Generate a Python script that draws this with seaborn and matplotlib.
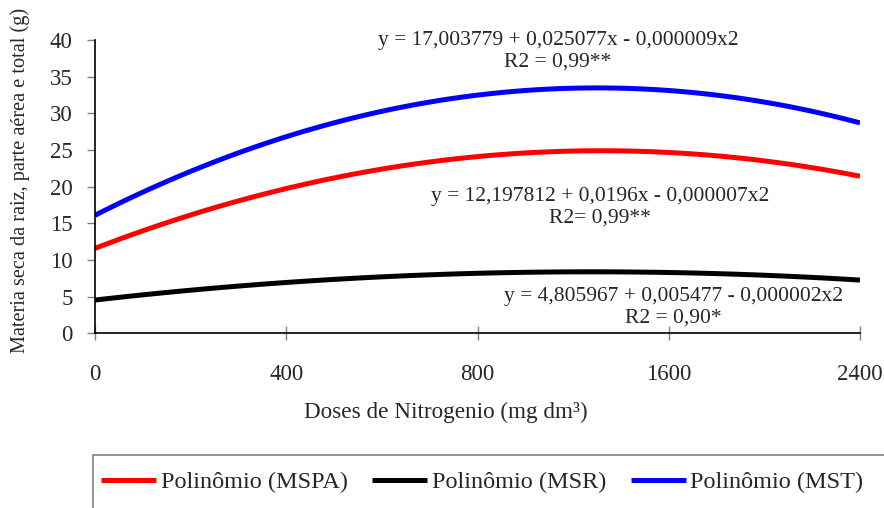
import numpy as np
import pandas as pd
import matplotlib
matplotlib.use('Agg')
import matplotlib.pyplot as plt
import seaborn as sns
from matplotlib.patches import Rectangle

# doses de N (categorias igualmente espaçadas no eixo)
doses = ['0', '400', '800', '1600', '2400']
pos = [0, 1, 2, 3, 4]

mspa = [11.6, 19.7, 24.1, 24.7, 21.4]
msr = [4.55, 6.9, 8.2, 8.3, 7.25]
mst = [16.1, 26.8, 32.5, 33.1, 28.7]

eq_mst = 'y = 17,003779 + 0,025077x - 0,000009x2\nR2 = 0,99**'
eq_mspa = 'y = 12,197812 + 0,0196x - 0,000007x2\nR2= 0,99**'
eq_msr = 'y = 4,805967 + 0,005477 - 0,000002x2\nR2 = 0,90*'

sns.set_style('ticks')
serif = ['Liberation Serif', 'DejaVu Serif']
plt.rcParams['font.family'] = serif

fig = plt.figure(figsize=(8.84, 5.08), dpi=100)
ax = fig.add_axes([95/884, 1 - 333.3/508, (860 - 95)/884, (333.3 - 40)/508])

df = pd.DataFrame({'pos': pos, 'MSPA': mspa, 'MSR': msr, 'MST': mst})
series = [('MSPA', '#ff0000'), ('MSR', '#000000'), ('MST', '#0000ff')]
for name, col in series:
    sns.regplot(data=df, x='pos', y=name, order=2, ci=None, scatter=False,
                color=col, line_kws={'lw': 3.6, 'solid_capstyle': 'butt'},
                label='Polinômio (%s)' % name, ax=ax)

ax.set_xlim(0, 4)
ax.set_ylim(0, 40)
ax.set_xticks(pos)
ax.set_xticklabels(doses)
ax.set_yticks(np.arange(0, 41, 5))
ax.tick_params(axis='x', direction='inout', length=10, width=1, color='#808080',
               labelsize=16.5, pad=17)
ax.tick_params(axis='y', direction='out', length=6, width=1, color='#808080',
               labelsize=16.5, pad=10)
for s in ['top', 'right']:
    ax.spines[s].set_visible(False)
for s in ['left', 'bottom']:
    ax.spines[s].set_color('black')
    ax.spines[s].set_linewidth(1.2)

ax.set_xlabel('Doses de Nitrogenio (mg dm³)', fontsize=16.7)
ax.xaxis.set_label_coords((446 - 95) / 765, -(412 - 333.3) / 293.3)
ax.set_ylabel('Materia seca da raiz, parte aérea e total (g)', fontsize=14.6)
ax.yaxis.set_label_coords((20 - 95) / 765, (333.3 - 180) / 293.3)
ax.xaxis.label.set_va('center')
ax.yaxis.label.set_va('center')

def px(x, y):
    return x / 884, 1 - y / 508

kw = dict(ha='center', va='center', fontsize=15.5, linespacing=1.15)
fig.text(*px(558, 51), eq_mst, **kw)
fig.text(*px(600, 207), eq_mspa, **kw)
fig.text(*px(673, 307), eq_msr, **kw)

fig.patches.append(Rectangle(px(93, 530), 1.0, (530 - 455) / 508,
                             transform=fig.transFigure, fill=False,
                             edgecolor='#808080', lw=1.2))
handles, labels = ax.get_legend_handles_labels()
leg = fig.legend(handles, labels, loc='center left', bbox_to_anchor=px(101, 482),
                 ncol=3, frameon=False, fontsize=17.5,
                 handlelength=2.26, handletextpad=0.2, columnspacing=1.0,
                 borderaxespad=0, borderpad=0)
for t in leg.get_texts():
    t.set_fontfamily(serif)

fig.savefig('out.png', dpi=100)
